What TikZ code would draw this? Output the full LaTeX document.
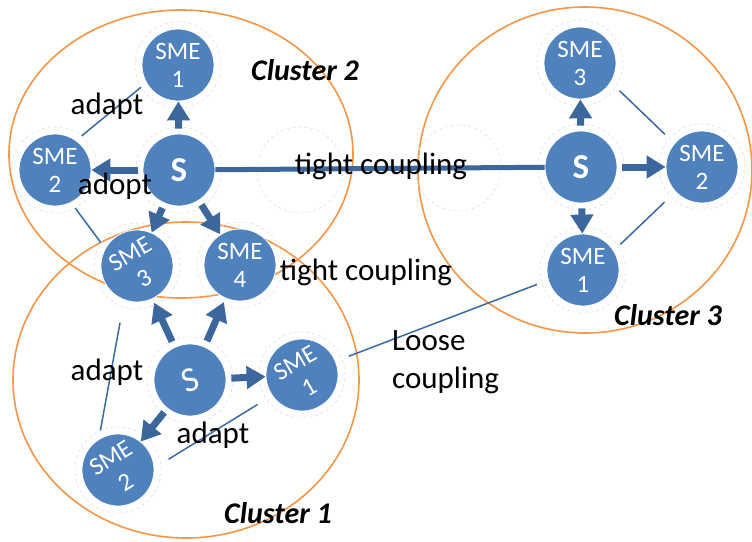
\documentclass[tikz,border=0pt]{standalone}
\usepackage{fontspec}
\setmainfont{Carlito}
\usetikzlibrary{arrows.meta}
\definecolor{nodeblue}{HTML}{4F81BD}
\definecolor{arrowblue}{HTML}{3C679C}
\definecolor{lineblue}{HTML}{3A6AA3}
\definecolor{clusterorange}{HTML}{F79646}
\definecolor{halogray}{HTML}{E0E0E0}
\begin{document}
\begin{tikzpicture}[x=1pt,y=-1pt,
  sme/.style={circle, fill=nodeblue, draw=white, line width=0.8pt, minimum size=72pt, inner sep=0pt, text=white, font=\fontsize{25}{28}\selectfont, align=center},
  hub/.style={sme, font=\fontsize{35}{36}\selectfont\bfseries},
  halo/.style={circle, draw=halogray, dashed, line width=0.6pt, minimum size=86pt, inner sep=0pt},
  cluster/.style={draw=clusterorange, line width=1.6pt},
  arr/.style={draw=arrowblue, line width=7pt, -{Triangle[length=19pt,width=22pt]}, shorten <=5pt},
  thinline/.style={draw=lineblue, line width=1.5pt},
  tightline/.style={draw=arrowblue, line width=5pt},
  lbl/.style={font=\fontsize{31}{34}\selectfont, text=black, inner sep=0pt},
  clbl/.style={font=\fontsize{30}{33}\selectfont\bfseries\itshape, inner sep=0pt}
]
\useasboundingbox[fill=white] (0,0) rectangle (752,541);
% clusters
\draw[cluster] (181,154) ellipse [x radius=172pt, y radius=144pt];
\draw[cluster] (186,380) ellipse [x radius=173pt, y radius=158pt];
\draw[cluster] (585,170) ellipse [x radius=167pt, y radius=163pt];
% halos and ghost circles
\node[halo] (h-c2s) at (179,170) {};
\node[halo] (h-c2m1) at (178,65) {};
\node[halo] (h-c2m2) at (55,170) {};
\node[halo] (h-m3) at (137,266) {};
\node[halo] (h-m4) at (240,265) {};
\node[halo] (h-c1s) at (190,380) {};
\node[halo] (h-c1m1) at (302,375) {};
\node[halo] (h-c1m2) at (118,470) {};
\node[halo] (h-c3s) at (581,167) {};
\node[halo] (h-c3m3) at (580,63) {};
\node[halo] (h-c3m2) at (702,167) {};
\node[halo] (h-c3m1) at (583,270) {};
\node[halo] (ghostA) at (300,170) {};
\node[halo] (ghostB) at (458,168) {};
% nodes
\node[hub] (c2s) at (179,170) {S};
\node[sme] (c2m1) at (178,65) {SME\\1};
\node[sme] (c2m2) at (55,170) {SME\\2};
\node[sme, rotate=30] (m3) at (137,266) {SME\\3};
\node[sme] (m4) at (240,265) {SME\\4};
\node[sme, font=\fontsize{35}{36}\selectfont, rotate=20] (c1s) at (190,380) {S};
\node[sme, rotate=30] (c1m1) at (302,375) {SME\\1};
\node[sme, rotate=32] (c1m2) at (118,470) {SME\\2};
\node[hub] (c3s) at (581,167) {S};
\node[sme] (c3m3) at (580,63) {SME\\3};
\node[sme] (c3m2) at (702,167) {SME\\2};
\node[sme] (c3m1) at (583,270) {SME\\1};
% arrows
\draw[arr] (c2s) -- (c2m1);
\draw[arr] (c2s) -- (c2m2);
\draw[arr] (c2s) -- (m3);
\draw[arr] (c2s) -- (m4);
\draw[arr, shorten <=6pt, shorten >=4pt] (c1s) -- (m3);
\draw[arr, shorten <=6pt, shorten >=4pt] (c1s) -- (m4);
\draw[arr] (c1s) -- (c1m1);
\draw[arr] (c1s) -- (c1m2);
\draw[arr] (c3s) -- (c3m3);
\draw[arr] (c3s) -- (c3m2);
\draw[arr] (c3s) -- (c3m1);
\draw[tightline] (c2s) -- (c3s);
% thin lines
\draw[thinline] (h-c2m1.211) -- (h-c2m2.52);
\draw[thinline] (h-c2m2.298) -- (h-m3.147);
\draw[thinline, shorten <=16pt] (h-m3.251) -- (h-c1m2.114);
\draw[thinline, shorten <=9pt, shorten >=10pt] (h-c1m2.8) -- (h-c1m1.214);
\draw[thinline, shorten <=7pt, shorten >=5pt] (h-c1m1.22) -- (h-c3m1.197);
\draw[thinline, shorten <=5pt, shorten >=6pt] (h-c3m3.326) -- (h-c3m2.139);
\draw[thinline, shorten <=2pt, shorten >=8pt] (h-c3m1.34) -- (h-c3m2.223);
% labels
\node[lbl] (t-adapt1) at (107,106) {adapt};
\node[lbl] (t-adopt) at (115,186) {adopt};
\node[lbl] (t-tight1) at (381,166) {tight coupling};
\node[lbl] (t-tight2) at (366,272) {tight coupling};
\node[lbl, anchor=west, align=left] (t-loose) at (392,362) {Loose\\[4pt]coupling};
\node[lbl] (t-adapt2) at (107,372) {adapt};
\node[lbl] (t-adapt3) at (213,435) {adapt};
\node[clbl] (t-c2) at (305,70) {Cluster 2};
\node[clbl] (t-c1) at (278,513) {Cluster 1};
\node[clbl] (t-c3) at (668,315) {Cluster 3};
\end{tikzpicture}
\end{document}
